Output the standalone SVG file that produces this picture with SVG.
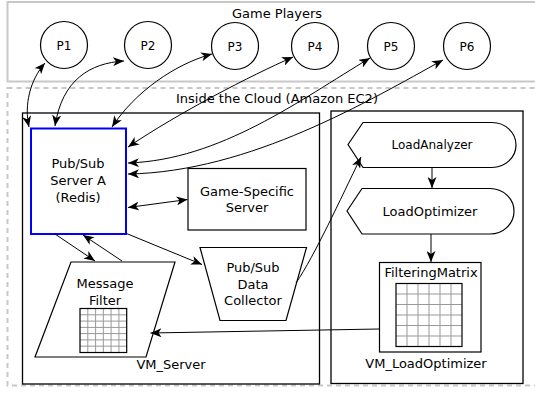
<svg xmlns="http://www.w3.org/2000/svg" width="535" height="396" viewBox="0 0 535 396">
<style>
text{font-family:"DejaVu Sans",Verdana,sans-serif;font-size:13px;fill:#000;text-anchor:middle}
.sm{font-size:12px}
.box{fill:#fff;stroke:#000;stroke-width:1.2}
.vm{fill:none;stroke:#000;stroke-width:1.3}
.c{fill:none;stroke:#000;stroke-width:1}
.g{stroke:#999;stroke-width:1;fill:none}
.gb{fill:none;stroke:#000;stroke-width:1.2}
</style>
<defs>
<marker id="ah" viewBox="0 0 11 9" refX="11" refY="4.5" markerWidth="11" markerHeight="9" markerUnits="userSpaceOnUse" orient="auto-start-reverse">
<path d="M0,0 L11,4.5 L0,9 L3,4.5 Z" fill="#000"/>
</marker>
</defs>
<g id="players-area">
<rect x="7.5" y="2" width="540" height="79.5" fill="none" stroke="#c8c8c8" stroke-width="2"/>
<text x="277" y="18">Game Players</text>
</g>
<g id="cloud-area">
<rect x="7.5" y="88" width="540" height="297.5" fill="none" stroke="#c8c8c8" stroke-width="2" stroke-dasharray="5 4"/>
<text x="277" y="103">Inside the Cloud (Amazon EC2)</text>
</g>
<g id="vm-server">
<rect class="vm" x="22.5" y="113" width="297" height="271"/>
<text x="171" y="369">VM_Server</text>
</g>
<g id="vm-loadoptimizer">
<rect class="vm" x="331" y="111" width="192" height="272.5"/>
<text x="426" y="368">VM_LoadOptimizer</text>
</g>
<g id="P1"><circle class="box" cx="64" cy="45" r="23.5"/><text class="sm" x="64" y="49.5">P1</text></g>
<g id="P2"><circle class="box" cx="148" cy="45" r="23.5"/><text class="sm" x="148" y="49.5">P2</text></g>
<g id="P3"><circle class="box" cx="235" cy="46" r="23.5"/><text class="sm" x="235" y="50.5">P3</text></g>
<g id="P4"><circle class="box" cx="315" cy="46" r="23.5"/><text class="sm" x="315" y="50.5">P4</text></g>
<g id="P5"><circle class="box" cx="391" cy="46" r="23.5"/><text class="sm" x="391" y="50.5">P5</text></g>
<g id="P6"><circle class="box" cx="467" cy="46" r="23.5"/><text class="sm" x="467" y="50.5">P6</text></g>
<g id="pubsub-server">
<rect x="31" y="128.5" width="95" height="105.5" fill="#fff" stroke="#0000ff" stroke-width="2"/>
<text x="78" y="168">Pub/Sub</text>
<text x="78" y="185">Server A</text>
<text x="78" y="201.5">(Redis)</text>
</g>
<g id="game-specific-server">
<rect class="box" x="188" y="168.5" width="118" height="61.5"/>
<text x="247" y="195.5">Game-Specific</text>
<text x="247" y="212">Server</text>
</g>
<g id="message-filter">
<path class="box" d="M71,262 L175,262 L146,357 L35,357 Z"/>
<text x="105" y="288">Message</text>
<text x="105" y="305">Filter</text>
<g class="g">
<path d="M87.8,308.5V352.5M95.6,308.5V352.5M103.3,308.5V352.5M111.1,308.5V352.5M118.9,308.5V352.5"/>
<path d="M80,314.8H126.7M80,321.1H126.7M80,327.4H126.7M80,333.6H126.7M80,339.9H126.7M80,346.2H126.7"/>
</g>
<rect class="gb" x="80" y="308.5" width="46.7" height="44"/>
</g>
<g id="pubsub-data-collector">
<path class="box" d="M200,247.5 L306.5,247.5 L286,320.5 L220,320.5 Z"/>
<text x="253" y="271.5">Pub/Sub</text>
<text x="253" y="288.5">Data</text>
<text x="253" y="305">Collector</text>
</g>
<g id="load-analyzer">
<path class="box" d="M348,144.5 L363,122.5 L492,122.5 A24,22.5 0 0 1 492,167.5 L363,167.5 Z"/>
<text class="sm" x="432" y="149">LoadAnalyzer</text>
</g>
<g id="load-optimizer">
<path class="box" d="M347,211 L362,188.5 L490,188.5 A24,22.75 0 0 1 490,234 L362,234 Z"/>
<text x="430" y="215.5">LoadOptimizer</text>
</g>
<g id="filtering-matrix">
<rect class="box" x="379.5" y="262.5" width="101.5" height="89.5"/>
<text x="431" y="276.5">FilteringMatrix</text>
<g class="g">
<path d="M407,283.5V346.5M418,283.5V346.5M429,283.5V346.5M440,283.5V346.5M451,283.5V346.5"/>
<path d="M396,294H462M396,304.5H462M396,315H462M396,325.5H462M396,336H462"/>
</g>
<rect class="gb" x="396" y="283.5" width="66" height="63"/>
</g>
<g id="connectors" class="c">
<path d="M45,63 C30,80 24,105 29,127" marker-start="url(#ah)" marker-end="url(#ah)"/>
<path d="M124,61 C90,63 62,80 55,126" marker-start="url(#ah)" marker-end="url(#ah)"/>
<path d="M212,54 C175,64 135,92 112,127" marker-start="url(#ah)" marker-end="url(#ah)"/>
<path d="M293,57 C250,76 180,112 128,147" marker-start="url(#ah)" marker-end="url(#ah)"/>
<path d="M370,58 C300,100 220,160 128,163" marker-start="url(#ah)" marker-end="url(#ah)"/>
<path d="M443,60 C370,100 250,172 128,174" marker-start="url(#ah)" marker-end="url(#ah)"/>
<path d="M128,207.5 L187.5,199.5" marker-start="url(#ah)" marker-end="url(#ah)"/>
<path d="M55,234 L95,261" marker-end="url(#ah)"/>
<path d="M122,261 L83,235" marker-end="url(#ah)"/>
<path d="M126.5,233.5 L202,264.5" marker-end="url(#ah)"/>
<path d="M296,283 C315,255 340,200 361,157" marker-end="url(#ah)"/>
<path d="M432,168 L432,188" marker-end="url(#ah)"/>
<path d="M431,234 L431,262" marker-end="url(#ah)"/>
<path d="M379.5,329 L150.5,333" marker-end="url(#ah)"/>
</g>
</svg>
